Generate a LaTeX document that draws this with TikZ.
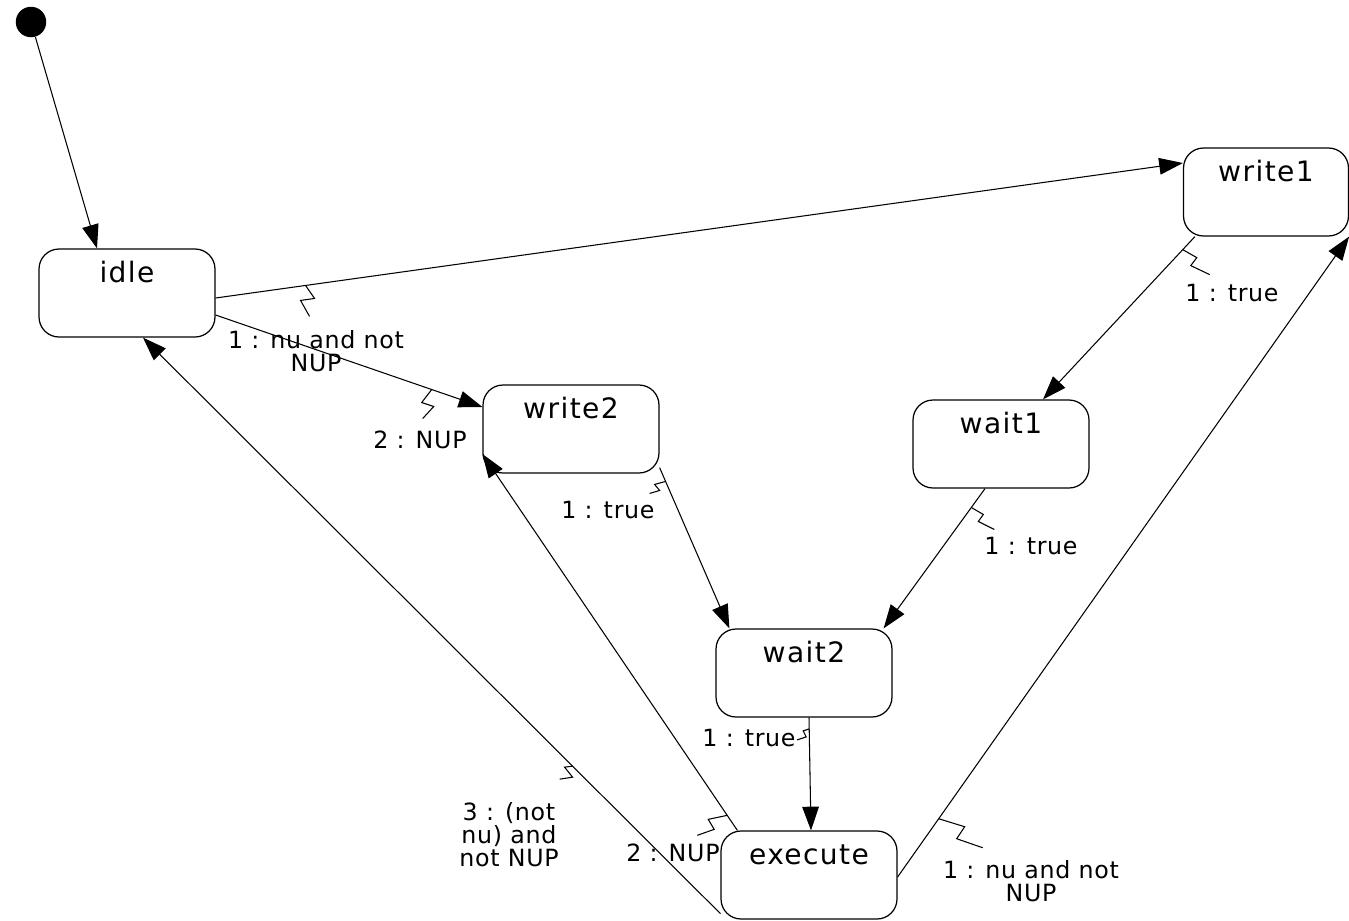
\documentclass[tikz,border=0pt]{standalone}
\usepackage{fontspec}
\setmainfont{DejaVu Sans}
\usetikzlibrary{arrows.meta}

\tikzset{
  statebox/.style={draw, rounded corners=0.4cm, minimum width=3.52cm, inner sep=0pt,
    text height=0.66cm, text depth=1.1cm,
    font=\fontsize{16}{18}\selectfont\addfontfeatures{LetterSpace=5}, line width=0.7pt},
  trans/.style={-{Triangle[length=13.5pt,width=9.5pt]}, line width=0.6pt},
  guardtext/.style={align=center, font=\fontsize{13.5}{13.1}\selectfont\addfontfeatures{LetterSpace=3},
    inner sep=0pt},
  zig/.style={line width=0.6pt},
}

\begin{document}
\begin{tikzpicture}[x=0.02cm, y=-0.02cm]
	\useasboundingbox (0,0) rectangle (1349,920);

	% states
	\node[circle, fill, inner sep=0pt, minimum size=0.61cm] (init) at (31,22) {};
	\node[statebox] (idle) at (127,293) {idle};
	\node[statebox] (write2) at (571,429) {write2};
	\node[statebox, minimum width=3.3cm] (write1) at (1266,192) {write1};
	\node[statebox] (wait1) at (1001,444) {wait1};
	\node[statebox] (wait2) at (804,673) {wait2};
	\node[statebox] (execute) at (809,875) {execute};

	% transitions
	\draw[trans] (init) -- ([xshift=-0.6cm]idle.north);
	\draw[trans] ([yshift=-0.1cm]idle.east) -- coordinate[pos=0.093] (g1) ([yshift=0.58cm]write1.west);
	\draw[trans] ([yshift=-0.44cm]idle.east) -- coordinate[pos=0.81] (g2) ([yshift=0.44cm]write2.west);
	\draw[trans] ([xshift=0.24cm]write1.south west) -- coordinate[pos=0.08] (g3) ([xshift=0.84cm]wait1.north);
	\draw[trans] ([yshift=0.12cm]write2.south east) -- coordinate[pos=0.086] (g4) ([xshift=0.28cm]wait2.north west);
	\draw[trans] ([xshift=-0.32cm]wait1.south) -- coordinate[pos=0.135] (g5) ([xshift=-0.18cm]wait2.north east);
	\draw[trans] ([xshift=0.1cm]wait2.south) -- coordinate[pos=0.1] (g6) ([xshift=0.04cm]execute.north);
	\draw[trans] ([yshift=0.12cm]execute.south west) -- coordinate[pos=0.256] (g7) ([xshift=0.32cm]idle.south);
	\draw[trans] ([xshift=0.34cm]execute.north west) -- coordinate[pos=0.04] (g8) ([yshift=-0.5cm]write2.west);
	\draw[trans] ([yshift=-0.04cm]execute.east) -- coordinate[pos=0.091] (g9) (write1.south east);

	% guards
	\node[guardtext] (lab1) at (316,351) {1 : nu and not\\NUP};
	\node[guardtext] (lab2) at (420,440) {2 : NUP};
	\node[guardtext] (lab3) at (1232,293) {1 : true};
	\node[guardtext] (lab4) at (608,510) {1 : true};
	\node[guardtext] (lab5) at (1031,546) {1 : true};
	\node[guardtext] (lab6) at (749,738) {1 : true};
	\node[guardtext] (lab7) at (509,835) {3 : (not\\nu) and\\not NUP};
	\node[guardtext] (lab8) at (673,853) {2 : NUP};
	\node[guardtext] (lab9) at (1031,881) {1 : nu and not\\NUP};

	% zigzags from edge to guard
	\draw[zig] (g1) -- ++(9,13) -- ++(-14,2) -- ++(9,16);
	\draw[zig] (g2) -- ++(-10,13) -- ++(12,4) -- ++(-11,12);
	\draw[zig] (g3) -- ++(14,8) -- ++(-6,8) -- ++(19,9);
	\draw[zig] (g4) -- ++(-11,3) -- ++(5,6) -- ++(-10,3);
	\draw[zig] (g5) -- ++(12,7) -- ++(-5,7) -- ++(16,8);
	\draw[zig] (g6) -- ++(-6,2) -- ++(3,6) -- ++(-9,3);
	\draw[zig] (g7) -- ++(-8,1) -- ++(8,10) -- ++(-13,2);
	\draw[zig] (g8) -- ++(-19,4) -- ++(6,10) -- ++(-17,6);
	\draw[zig] (g9) -- ++(26,8) -- ++(-8,12) -- ++(26,9);
\end{tikzpicture}
\end{document}
